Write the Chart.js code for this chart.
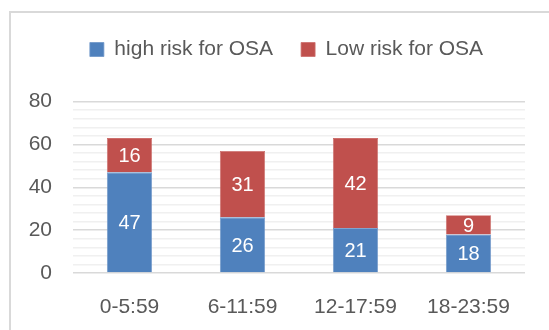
<!DOCTYPE html>
<html>
<head>
<meta charset="utf-8">
<script src="https://cdn.jsdelivr.net/npm/chart.js@4"></script>
<style>
  html, body { margin: 0; padding: 0; background: #ffffff; }
  #wrap { width: 549px; height: 330px; position: relative; }
</style>
</head>
<body>
<div id="wrap"><canvas id="c" width="549" height="330"></canvas></div>
<script>
const categories = ['0-5:59', '6-11:59', '12-17:59', '18-23:59'];
const highRisk = [47, 26, 21, 18];
const lowRisk = [16, 31, 42, 9];
const seriesNames = ['high risk for OSA', 'Low risk for OSA'];
const yTickLabels = [0, 20, 40, 60, 80];

const FONT = "'Liberation Sans', Arial, sans-serif";
const TEXT = '#595959';

const bgPlugin = {
  id: 'bg',
  beforeDraw(chart) {
    const ctx = chart.ctx;
    ctx.save();
    ctx.fillStyle = '#ffffff';
    ctx.fillRect(0, 0, chart.width, chart.height);
    ctx.strokeStyle = '#d9d9d9';
    ctx.lineWidth = 2;
    ctx.strokeRect(10, 12, 700, 500);
    ctx.restore();
  },
  afterLayout(chart) {
    // centre the legend like the reference (shifted right of the canvas centre)
    if (chart.legend) {
      chart.legend.left += 19.5;
      chart.legend.right += 19.5;
    }
  }
};

const labelPlugin = {
  id: 'barLabels',
  afterDatasetsDraw(chart) {
    const ctx = chart.ctx;
    ctx.save();
    ctx.fillStyle = '#ffffff';
    ctx.font = '20px ' + FONT;
    ctx.textAlign = 'center';
    ctx.textBaseline = 'middle';
    chart.data.datasets.forEach((ds, i) => {
      const meta = chart.getDatasetMeta(i);
      meta.data.forEach((el, j) => {
        const cy = (el.y + el.base) / 2 + 1.5;
        ctx.fillText(String(ds.data[j]), el.x, cy);
      });
    });
    ctx.restore();
  }
};

new Chart(document.getElementById('c'), {
  type: 'bar',
  data: {
    labels: categories,
    datasets: [
      { label: seriesNames[0], data: highRisk, backgroundColor: '#4f81bd', borderColor: '#6f97c9', borderWidth: 0.8 },
      { label: seriesNames[1], data: lowRisk, backgroundColor: '#c0504d', borderColor: '#cd6f6c', borderWidth: 0.8 }
    ]
  },
  options: {
    responsive: false,
    animation: false,
    devicePixelRatio: 1,
    layout: { padding: { left: 9, right: 24, top: 11, bottom: 0 } },
    datasets: { bar: { barPercentage: 0.4, categoryPercentage: 1.0 } },
    plugins: {
      tooltip: { enabled: false },
      title: {
        display: true,
        text: '',
        weight: 500,
        font: { size: 1, lineHeight: 1 },
        padding: { top: 0, bottom: 30.7 }
      },
      legend: {
        display: true,
        position: 'top',
        weight: 1000,
        labels: {
          font: { family: FONT, size: 21 },
          color: TEXT,
          boxWidth: 14,
          boxHeight: 14,
          padding: 28
        }
      }
    },
    scales: {
      x: {
        stacked: true,
        grid: { display: false, drawTicks: false },
        border: { display: false },
        ticks: { font: { family: FONT, size: 21 }, color: TEXT, padding: 22, maxRotation: 0 },
        afterFit(scale) { scale.height = 57; }
      },
      y: {
        stacked: true,
        min: 0,
        max: 80,
        grid: {
          drawTicks: false,
          color: (c) => (c.tick && c.tick.value % 20 === 0) ? '#d9d9d9' : '#f0f0f0',
          lineWidth: 1.6
        },
        border: { display: false },
        ticks: {
          stepSize: 4,
          autoSkip: false,
          padding: 21,
          font: { family: FONT, size: 21 },
          color: TEXT,
          callback: (v) => yTickLabels.includes(v) ? String(v) : ''
        },
        afterFit(scale) { scale.width = 64; }
      }
    }
  },
  plugins: [bgPlugin, labelPlugin]
});
</script>
</body>
</html>
